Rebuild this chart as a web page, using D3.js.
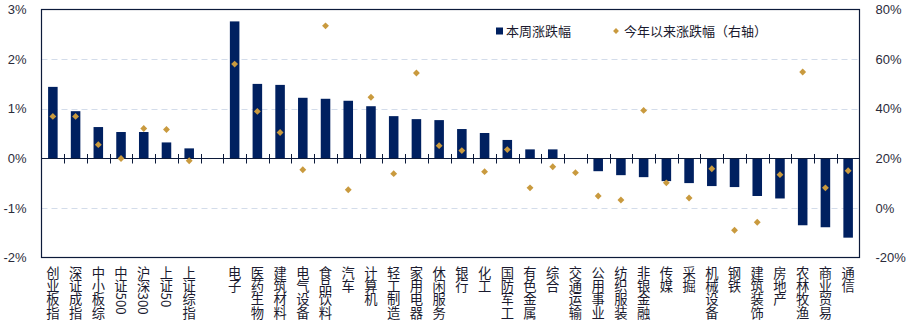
<!DOCTYPE html>
<html>
<head>
<meta charset="utf-8">
<script src="https://cdn.jsdelivr.net/npm/d3@7"></script>
<style>
  html, body { margin: 0; padding: 0; background: #fff; }
  svg { display: block; }
  text { font-family: "Liberation Sans", "Noto Sans CJK SC", sans-serif; }
  .cat { font-family: "Noto Sans CJK SC", sans-serif; writing-mode: vertical-rl; text-orientation: mixed; }
</style>
</head>
<body>
<svg id="chart" width="909" height="322"></svg>
<script>
// Categories: broad indices, a blank spacer, then industries
const categories = ["创业板指", "深证成指", "中小板综", "中证500", "沪深300", "上证50", "上证综指", "",
  "电子", "医药生物", "建筑材料", "电气设备", "食品饮料", "汽车", "计算机", "轻工制造", "家用电器", "休闲服务",
  "银行", "化工", "国防军工", "有色金属", "综合", "交通运输", "公用事业", "纺织服装", "非银金融", "传媒",
  "采掘", "机械设备", "钢铁", "建筑装饰", "房地产", "农林牧渔", "商业贸易", "通信"];

// Weekly change, % (left axis)
const weekly = [1.44, 0.95, 0.63, 0.53, 0.53, 0.32, 0.20, null,
  2.76, 1.50, 1.48, 1.22, 1.20, 1.16, 1.05, 0.85, 0.79, 0.77,
  0.59, 0.51, 0.37, 0.18, 0.18, 0.00, -0.26, -0.34, -0.38, -0.46,
  -0.50, -0.56, -0.58, -0.76, -0.81, -1.35, -1.39, -1.60];

// Year-to-date change, % (right axis)
const ytd = [36.9, 36.9, 25.5, 19.9, 32.0, 31.6, 19.0, null,
  58.0, 38.9, 30.4, 15.4, 73.4, 7.3, 44.6, 13.8, 54.4, 25.1,
  23.1, 14.6, 23.5, 8.1, 16.6, 14.2, 4.8, 3.2, 39.3, 10.1,
  4.0, 15.8, -9.0, -5.8, 13.4, 54.8, 8.1, 15.0];

const leftTicks = [-2, -1, 0, 1, 2, 3];
const rightTicks = [-20, 0, 20, 40, 60, 80];
const seriesNames = ["本周涨跌幅", "今年以来涨跌幅（右轴）"];

const barColor = "#002060";
const dotColor = "#C99A3E";
const frameColor = "#0c1a3a";

const svg = d3.select("#chart");
const plot = { left: 41.5, right: 859.5, top: 9.5, bottom: 257.5 };

const x = d3.scaleBand().domain(d3.range(categories.length))
  .range([plot.left, plot.right]).paddingInner(0.58).paddingOuter(0.29);
const yL = d3.scaleLinear().domain([-2, 3]).range([plot.bottom, plot.top]);
const yR = d3.scaleLinear().domain([-20, 80]).range([plot.bottom, plot.top]);
const step = x.step();

// Dashed grid lines
svg.append("g").selectAll("line")
  .data(leftTicks.filter(t => t !== 0 && t !== -2 && t !== 3))
  .join("line")
  .attr("x1", plot.left).attr("x2", plot.right)
  .attr("y1", d => Math.round(yL(d)) + 0.5).attr("y2", d => Math.round(yL(d)) + 0.5)
  .attr("stroke", "#d3dcea").attr("stroke-width", 1).attr("stroke-dasharray", "6,4");

// Bars
svg.append("g").selectAll("rect")
  .data(categories.map((c, i) => ({ i, v: weekly[i] })).filter(d => d.v !== null))
  .join("rect")
  .attr("x", d => x(d.i))
  .attr("width", x.bandwidth())
  .attr("y", d => yL(Math.max(0, d.v)))
  .attr("height", d => Math.abs(yL(d.v) - yL(0)))
  .attr("fill", barColor);

// Zero line with category ticks
const zeroY = Math.round(yL(0)) + 0.5;
svg.append("line").attr("x1", plot.left).attr("x2", plot.right)
  .attr("y1", zeroY).attr("y2", zeroY).attr("stroke", frameColor).attr("stroke-width", 1);
svg.append("g").selectAll("line")
  .data(d3.range(1, categories.length))
  .join("line")
  .attr("x1", i => Math.round(plot.left + i * step) + 0.5)
  .attr("x2", i => Math.round(plot.left + i * step) + 0.5)
  .attr("y1", zeroY - 4.5).attr("y2", zeroY + 5)
  .attr("stroke", frameColor).attr("stroke-width", 1);

// Year-to-date diamonds
const diamond = d3.symbol().type(d3.symbolDiamond2).size(30);
svg.append("g").selectAll("path")
  .data(categories.map((c, i) => ({ i, v: ytd[i] })).filter(d => d.v !== null))
  .join("path")
  .attr("d", diamond)
  .attr("transform", d => `translate(${x(d.i) + x.bandwidth() / 2},${yR(d.v)})`)
  .attr("fill", dotColor);

// Plot frame
svg.append("rect")
  .attr("x", plot.left).attr("y", plot.top)
  .attr("width", plot.right - plot.left).attr("height", plot.bottom - plot.top)
  .attr("fill", "none").attr("stroke", frameColor).attr("stroke-width", 1.2);

// Axes labels
const axL = svg.append("g").attr("transform", `translate(${plot.left - 12},0)`)
  .call(d3.axisLeft(yL).tickValues(leftTicks).tickSize(0).tickFormat(d => d + "%"));
const axR = svg.append("g").attr("transform", `translate(${plot.right + 13},0)`)
  .call(d3.axisRight(yR).tickValues(rightTicks).tickSize(0).tickFormat(d => d + "%"));
[axL, axR].forEach(a => {
  a.select(".domain").remove();
  a.selectAll("text").attr("font-size", 13).attr("fill", "#2b2b3a")
    .attr("font-family", "'Liberation Sans', sans-serif");
});

// Category labels, vertical
svg.append("g").selectAll("text")
  .data(categories.map((c, i) => ({ c, i })).filter(d => d.c !== ""))
  .join("text")
  .attr("class", "cat")
  .attr("x", d => x(d.i) + x.bandwidth() / 2)
  .attr("y", 266)
  .attr("font-size", 13.3)
  .attr("fill", "#1a1a2e")
  .text(d => d.c);

// Legend
const lg = svg.append("g");
lg.append("rect").attr("x", 496).attr("y", 27.5).attr("width", 7).attr("height", 7).attr("fill", barColor);
lg.append("text").attr("x", 506).attr("y", 36).attr("font-size", 13)
  .attr("font-family", "'Noto Sans CJK SC', sans-serif").attr("fill", "#1a1a2e").text(seriesNames[0]);
lg.append("path").attr("d", d3.symbol().type(d3.symbolDiamond2).size(22))
  .attr("transform", "translate(616,31)").attr("fill", dotColor);
lg.append("text").attr("x", 624).attr("y", 36).attr("font-size", 13)
  .attr("font-family", "'Noto Sans CJK SC', sans-serif").attr("fill", "#1a1a2e").text(seriesNames[1]);
</script>
</body>
</html>
